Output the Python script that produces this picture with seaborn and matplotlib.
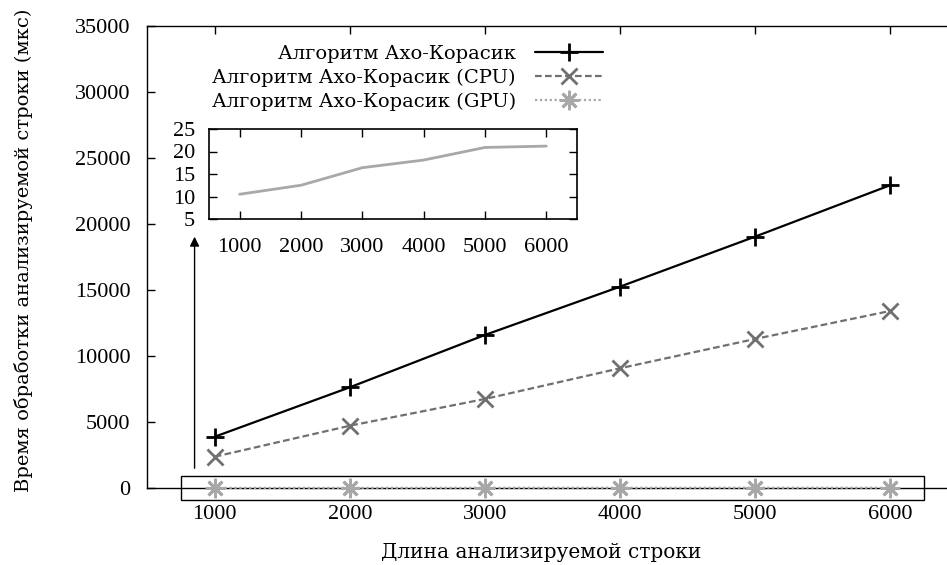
import matplotlib
matplotlib.use("Agg")
import matplotlib.pyplot as plt
import matplotlib.patches as mpatches
import pandas as pd
import seaborn as sns

# string length (characters)
lengths = [1000, 2000, 3000, 4000, 5000, 6000]
# processing time per string, microseconds
t_base = [3890, 7635, 11600, 15262, 19053, 22950]
t_cpu = [2373, 4723, 6748, 9075, 11297, 13419]
t_gpu = [10.5, 12.5, 16.4, 18.1, 20.9, 21.2]

labels = [
    "Алгоритм Ахо-Корасик",
    "Алгоритм Ахо-Корасик (CPU)",
    "Алгоритм Ахо-Корасик (GPU)",
]

sns.set_theme(style="ticks")
plt.rcParams["font.family"] = ["Liberation Serif", "DejaVu Serif"]
plt.rcParams["font.size"] = 16
plt.rcParams["axes.linewidth"] = 1.0
plt.rcParams["text.color"] = "black"
plt.rcParams["axes.labelcolor"] = "black"
text_font = ["DejaVu Serif"]

df = pd.DataFrame({"x": lengths, "base": t_base, "cpu": t_cpu, "gpu": t_gpu})

fig = plt.figure(figsize=(9.47, 5.65), dpi=100)
ax = fig.add_axes([147.3 / 947, 77 / 565, 810.3 / 947, 461.7 / 565])

sns.lineplot(data=df, x="x", y="base", ax=ax, color="black", lw=1.6,
             marker="+", markersize=13, markeredgewidth=2,
             markeredgecolor="black", label=labels[0])
sns.lineplot(data=df, x="x", y="cpu", ax=ax, color="#707070", lw=1.6,
             ls=(0, (3, 1.5)), marker="x", markersize=11, markeredgewidth=2,
             markeredgecolor="#707070", label=labels[1])
sns.lineplot(data=df, x="x", y="gpu", ax=ax, color="#a8a8a8", lw=1.6,
             ls=(0, (1, 1.2)), marker=(8, 2, 0), markersize=14,
             markeredgewidth=2, markeredgecolor="#a8a8a8", label=labels[2],
             clip_on=False, zorder=4)

ax.set_xlim(500, 6500)
ax.set_ylim(0, 35000)
ax.set_xticks(lengths)
ax.set_yticks(range(0, 35001, 5000))
ax.tick_params(direction="in", length=6, width=1, top=True, right=True,
               labelsize=16, pad=12, colors="black")
for s in ax.spines.values():
    s.set_color("black")
    s.set_zorder(3)
ax.set_xlabel("Длина анализируемой строки", fontsize=14.5, family=text_font)
ax.set_ylabel("Время обработки анализируемой строки (мкс)", fontsize=14,
              family=text_font)
ax.xaxis.set_label_coords((541.5 - 147.3) / 810.3, -(552 - 488) / 461.7)
ax.yaxis.set_label_coords(-(147.3 - 24) / 810.3, (488 - 250) / 461.7)
ax.xaxis.label.set_va("center")
ax.yaxis.label.set_va("center")

# box around the GPU curve near zero and arrow to the zoomed inset
rect = mpatches.Rectangle((750, -900), 5500, 1800, fill=False, ec="black",
                          lw=1.0, clip_on=False, zorder=5)
ax.add_patch(rect)
ax.annotate("", xy=(850, 19050), xytext=(850, 1500),
            arrowprops=dict(arrowstyle="-|>", color="black", lw=1.0,
                            mutation_scale=14, shrinkA=0, shrinkB=0))

leg = ax.legend(loc="upper right", markerfirst=False, frameon=False,
                bbox_to_anchor=(613 / 947, 1 - 35 / 565),
                bbox_transform=fig.transFigure, handlelength=3.5,
                labelspacing=0.3, borderpad=0, handletextpad=1.0,
                prop={"family": text_font, "size": 14})

# inset with GPU times
axin = fig.add_axes([209 / 947, (565 - 219) / 565, 368 / 947, 90 / 565])
sns.lineplot(data=df, x="x", y="gpu", ax=axin, color="#a8a8a8", lw=2)
axin.set_xlim(500, 6500)
axin.set_ylim(5, 25)
axin.set_xticks(lengths)
axin.set_yticks([5, 10, 15, 20, 25])
axin.tick_params(direction="in", length=6, width=1, top=True, right=True,
                 labelsize=16, pad=10, colors="black")
axin.tick_params(axis="x", pad=14)
axin.set_xlabel("")
axin.set_ylabel("")
for s in axin.spines.values():
    s.set_color("black")
    s.set_linewidth(1.2)

fig.savefig("out.png", dpi=100)
